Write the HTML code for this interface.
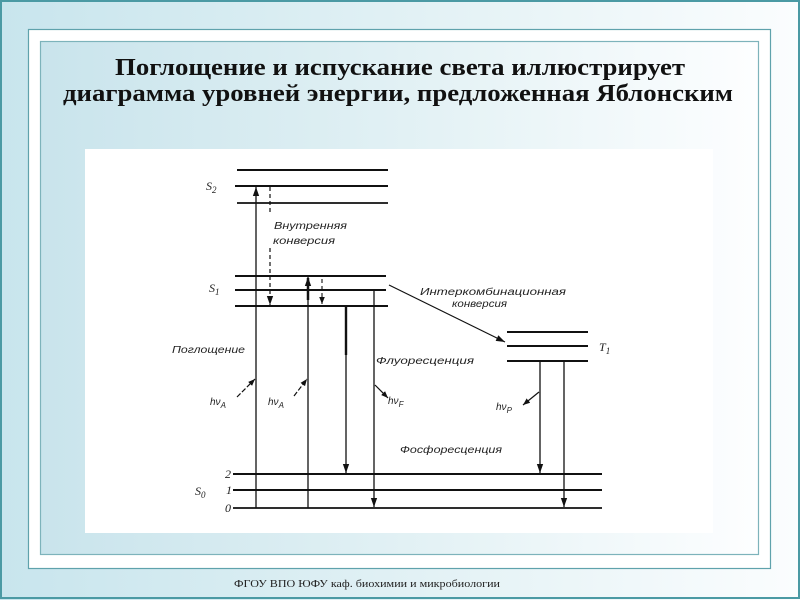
<!DOCTYPE html>
<html><head><meta charset="utf-8"><style>
html,body{margin:0;padding:0;width:800px;height:600px;overflow:hidden;background:#fff}
svg{display:block}
.t{font-family:"Liberation Serif","Noto Serif CJK SC",serif;font-weight:bold;font-size:24px;fill:#111}
.l{font-family:"Liberation Sans","DejaVu Sans",sans-serif;font-style:italic;font-size:10px;fill:#222}
.s{font-family:"Liberation Serif",serif;font-style:italic;font-size:12px;fill:#222}
.f{font-family:"Liberation Serif",serif;font-size:11px;fill:#222}
</style></head><body>
<svg width="800" height="600" viewBox="0 0 800 600" xmlns="http://www.w3.org/2000/svg">
<defs>
<linearGradient id="bg" x1="0" y1="0" x2="1" y2="0">
<stop offset="0" stop-color="#c8e5ed"/><stop offset="0.6" stop-color="#e6f3f6"/><stop offset="1" stop-color="#fbfdfe"/>
</linearGradient>
<linearGradient id="ib" x1="0" y1="0" x2="1" y2="0">
<stop offset="0" stop-color="#c9e4ec"/><stop offset="0.55" stop-color="#e4f2f5"/><stop offset="1" stop-color="#fdfeff"/>
</linearGradient>
<marker id="a" viewBox="0 0 10 10" refX="10" refY="5" markerWidth="7" markerHeight="7" markerUnits="userSpaceOnUse" orient="auto">
<path d="M0,1 L10,5 L0,9 z" fill="#111"/>
</marker>
<marker id="b" viewBox="0 0 10 10" refX="10" refY="5" markerWidth="9" markerHeight="9" markerUnits="userSpaceOnUse" orient="auto">
<path d="M0,1.5 L10,5 L0,8.5 z" fill="#111"/>
</marker>
</defs>
<rect x="0" y="0" width="800" height="600" fill="url(#bg)"/>
<rect x="1" y="1" width="798" height="597" fill="none" stroke="#4b9aa4" stroke-width="2"/>
<rect x="28.5" y="29.5" width="742" height="539" fill="#fff" stroke="#5fa2ac" stroke-width="1.2"/>
<rect x="40.5" y="41.5" width="718" height="513" fill="url(#ib)" stroke="#7db3bb" stroke-width="1.2"/>
<text class="t" x="115" y="75" textLength="570" lengthAdjust="spacingAndGlyphs">Поглощение и испускание света  иллюстрирует</text>
<text class="t" x="63" y="101" textLength="670" lengthAdjust="spacingAndGlyphs">диаграмма уровней энергии, предложенная Яблонским</text>
<rect x="85" y="149" width="628" height="384" fill="#fff"/>

<g stroke="#111" fill="none">
<!-- S2 -->
<line x1="237" y1="170" x2="388" y2="170" stroke-width="2"/>
<line x1="235" y1="186" x2="388" y2="186" stroke-width="2"/>
<line x1="237" y1="203" x2="388" y2="203" stroke-width="1.8"/>
<!-- S1 -->
<line x1="235" y1="276" x2="386" y2="276" stroke-width="2"/>
<line x1="235" y1="290" x2="386" y2="290" stroke-width="2"/>
<line x1="235" y1="306" x2="388" y2="306" stroke-width="2"/>
<!-- S0 -->
<line x1="233" y1="474" x2="602" y2="474" stroke-width="2"/>
<line x1="233" y1="490" x2="602" y2="490" stroke-width="2"/>
<line x1="233" y1="508" x2="602" y2="508" stroke-width="1.8"/>
<!-- T1 -->
<line x1="507" y1="332" x2="588" y2="332" stroke-width="2"/>
<line x1="507" y1="346" x2="588" y2="346" stroke-width="2"/>
<line x1="507" y1="361" x2="588" y2="361" stroke-width="2"/>

<!-- vertical transitions -->
<line x1="256" y1="508" x2="256" y2="187" stroke-width="1.3" marker-end="url(#b)"/>
<line x1="270" y1="187" x2="270" y2="214" stroke-width="1.2" stroke-dasharray="4,3"/>
<line x1="270" y1="248" x2="270" y2="305" stroke-width="1.2" stroke-dasharray="4,3" marker-end="url(#b)"/>
<line x1="308" y1="508" x2="308" y2="277" stroke-width="1.3" marker-end="url(#b)"/>
<line x1="308" y1="278" x2="308" y2="300" stroke-width="2.5"/>
<line x1="322" y1="279" x2="322" y2="304" stroke-width="1.1" stroke-dasharray="4,3" marker-end="url(#a)"/>
<line x1="346" y1="306" x2="346" y2="473" stroke-width="1.3" marker-end="url(#b)"/>
<line x1="346" y1="306" x2="346" y2="355" stroke-width="2.4"/>
<line x1="374" y1="290" x2="374" y2="507" stroke-width="1.3" marker-end="url(#b)"/>
<line x1="540" y1="361" x2="540" y2="473" stroke-width="1.3" marker-end="url(#b)"/>
<line x1="564" y1="361" x2="564" y2="507" stroke-width="1.3" marker-end="url(#b)"/>
<!-- intersystem crossing -->
<line x1="389" y1="285" x2="505" y2="342" stroke-width="1.2" marker-end="url(#b)"/>
<!-- photon arrows -->
<line x1="237" y1="397" x2="255" y2="379" stroke-width="1.2" stroke-dasharray="5,2" marker-end="url(#a)"/>
<line x1="294" y1="396" x2="307" y2="379" stroke-width="1.2" stroke-dasharray="5,2" marker-end="url(#a)"/>
<line x1="375" y1="385" x2="388" y2="398" stroke-width="1.2" marker-end="url(#a)"/>
<line x1="539" y1="392" x2="523" y2="405" stroke-width="1.2" marker-end="url(#a)"/>
</g>

<!-- labels -->
<text class="s" x="206" y="190">S<tspan font-size="9" dy="3">2</tspan></text>
<text class="s" x="209" y="292">S<tspan font-size="9" dy="3">1</tspan></text>
<text class="s" x="195" y="495">S<tspan font-size="9" dy="3">0</tspan></text>
<text class="s" x="599" y="351">T<tspan font-size="9" dy="3">1</tspan></text>
<text class="s" x="225" y="478">2</text>
<text class="s" x="226" y="494">1</text>
<text class="s" x="225" y="512">0</text>

<text class="l" x="274" y="229" textLength="73" lengthAdjust="spacingAndGlyphs">Внутренняя</text>
<text class="l" x="273" y="244" textLength="62" lengthAdjust="spacingAndGlyphs">конверсия</text>
<text class="l" x="420" y="295" textLength="146" lengthAdjust="spacingAndGlyphs">Интеркомбинационная</text>
<text class="l" x="452" y="307" textLength="55" lengthAdjust="spacingAndGlyphs">конверсия</text>
<text class="l" x="172" y="353" textLength="73" lengthAdjust="spacingAndGlyphs">Поглощение</text>
<text class="l" x="376" y="364" textLength="98" lengthAdjust="spacingAndGlyphs">Флуоресценция</text>
<text class="l" x="400" y="453" textLength="102" lengthAdjust="spacingAndGlyphs">Фосфоресценция</text>

<text class="l" x="210" y="405">hν<tspan font-size="8" dy="3">A</tspan></text>
<text class="l" x="268" y="405">hν<tspan font-size="8" dy="3">A</tspan></text>
<text class="l" x="388" y="404">hν<tspan font-size="8" dy="3">F</tspan></text>
<text class="l" x="496" y="410">hν<tspan font-size="8" dy="3">P</tspan></text>

<text class="f" x="234" y="587" textLength="266" lengthAdjust="spacingAndGlyphs">ФГОУ ВПО ЮФУ  каф. биохимии и микробиологии</text>
</svg>
</body></html>
